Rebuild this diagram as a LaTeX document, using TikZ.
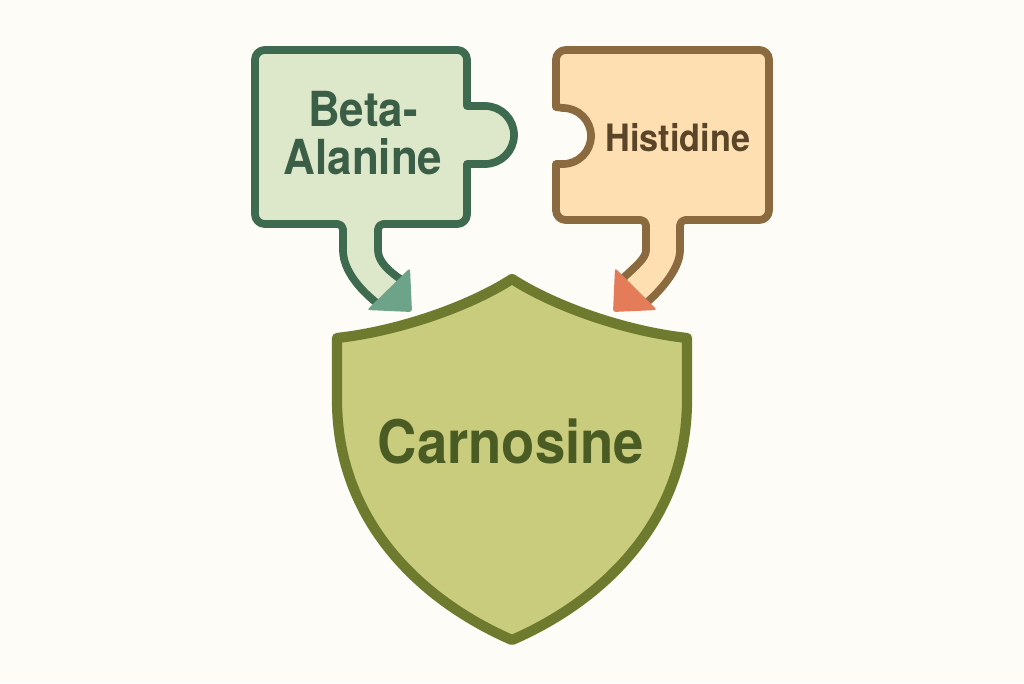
\documentclass[tikz,border=0pt]{standalone}
\usepackage{fontspec}
\setmainfont{TeX Gyre Heros}
\usepackage{graphicx}
\usepackage{tikz}
\usetikzlibrary{positioning}
\definecolor{paper}{HTML}{FDFCF6}
\definecolor{alafill}{HTML}{DDE7C9}
\definecolor{alaline}{HTML}{3E6B50}
\definecolor{alatext}{HTML}{3B5E46}
\definecolor{alahead}{HTML}{6DA489}
\definecolor{hisfill}{HTML}{FEDFB2}
\definecolor{hisline}{HTML}{8C6A3F}
\definecolor{histext}{HTML}{5B4529}
\definecolor{hishead}{HTML}{E57C59}
\definecolor{carnfill}{HTML}{C9CB7D}
\definecolor{carnline}{HTML}{6E7B2F}
\definecolor{carntext}{HTML}{4B5B24}
\newcommand{\tall}[1]{\scalebox{1}[1.1]{#1}}

\begin{document}
\begin{tikzpicture}[x=0.02cm,y=-0.02cm]
\tikzstyle{every node}=[font=\bfseries,align=center]
\tikzstyle{piece}=[line width=4.4pt,line join=round]
\tikzstyle{head}=[rounded corners=1.5pt]
\fill[paper] (0,0) rectangle (1024,683);
%beta-alanine piece, tab on the right, tail down
\draw[piece,draw=alaline,fill=alafill] (300,224) [rounded corners=5.5pt] -- (255,224) -- (255,50) -- (467,50) [sharp corners] -- (467,106) -- (485,106) arc[start angle=-90,end angle=90,radius=29] -- (467,164) [rounded corners=5.5pt] -- (467,224) [rounded corners=3pt] -- (378,224) -- (378,245) .. controls (378,262) and (390,272) .. (406,283) -- (382,307) .. controls (360,290) and (343,270) .. (343,245) -- (343,224) -- cycle;
\fill[head,alahead] (367,310) -- (410,268) -- (412,312) -- cycle;
%histidine piece, notch on the left, tail down
\draw[piece,draw=hisline,fill=hisfill] (600,50) [rounded corners=5.5pt] -- (769,50) -- (769,220) [rounded corners=3pt] -- (680,220) -- (680,245) .. controls (680,268) and (662,289) .. (644,305) -- (620,281) .. controls (636,266) and (646,258) .. (646,245) -- (646,220) [rounded corners=5.5pt] -- (556,220) [sharp corners] -- (556,164) -- (563,164) arc[start angle=90,end angle=-90,radius=28] -- (556,107) [rounded corners=5.5pt] -- (556,50) -- cycle;
\fill[head,hishead] (615,268) -- (613,312) -- (657,310) -- cycle;
%shield
\draw[line width=5.8pt,line join=round,draw=carnline,fill=carnfill] (512,279) .. controls (470,306) and (400,331) .. (337,338) -- (337,400) .. controls (337,520) and (420,600) .. (512,640) .. controls (604,600) and (687,520) .. (687,400) -- (687,338) .. controls (624,331) and (554,306) .. (512,279) -- cycle;
%labels
\node[text=alatext,font=\bfseries\fontsize{25}{27}\selectfont] (beta) at (363,133) {\tall{Beta-}\\\tall{Alanine}};
\node[text=histext,font=\bfseries\fontsize{19.5}{20}\selectfont] (his) at (678,138) {\tall{Histidine}};
\node[text=carntext,font=\bfseries\fontsize{31}{32}\selectfont] (carn) at (511,442) {\tall{Carnosine}};
\end{tikzpicture}
\end{document}
